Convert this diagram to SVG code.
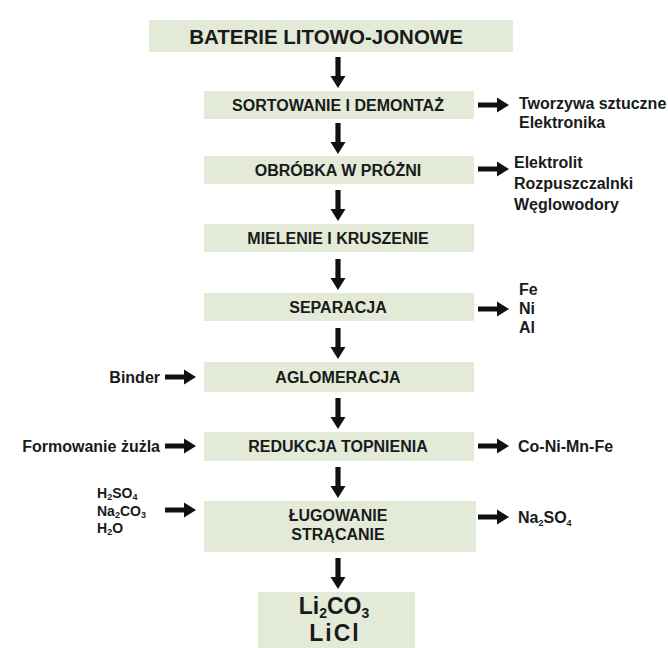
<svg xmlns="http://www.w3.org/2000/svg" xmlns:xlink="http://www.w3.org/1999/xlink" width="668" height="648" viewBox="0 0 668 648">
<style>
.box{fill:#e3ead8;}
.t{font-family:"Liberation Sans",Arial,sans-serif;font-weight:bold;fill:#1a1a1a;}
.lbl{font-size:16px;text-anchor:middle;}
.side{font-size:16px;}
.chem{font-size:14px;}
.sub{font-size:9px;}
.ar{fill:#111;}
</style>
<defs>
<path id="ra" class="ar" d="M0,-2.6 H19 V-7.5 L31,0 L19,7.5 V2.6 H0 Z"/>
<path id="da" class="ar" d="M-2.6,0 V19 H-7.5 L0,31 L7.5,19 H2.6 V0 Z"/>
</defs>
<rect width="668" height="648" fill="#ffffff"/>

<g id="n0"><rect class="box" x="149" y="20" width="364" height="32"/><text class="t" x="326" y="43.5" font-size="20.5" text-anchor="middle">BATERIE LITOWO-JONOWE</text></g>
<g id="n1"><rect class="box" x="204" y="91" width="270" height="28"/><text class="t lbl" x="338" y="110.5">SORTOWANIE I DEMONTAŻ</text></g>
<g id="n2"><rect class="box" x="204" y="156" width="270" height="28"/><text class="t lbl" x="338" y="175.5">OBRÓBKA W PRÓŻNI</text></g>
<g id="n3"><rect class="box" x="204" y="224" width="270" height="28"/><text class="t lbl" x="338" y="243.5">MIELENIE I KRUSZENIE</text></g>
<g id="n4"><rect class="box" x="204" y="293" width="270" height="28"/><text class="t lbl" x="338" y="312.5">SEPARACJA</text></g>
<g id="n5"><rect class="box" x="204" y="362" width="270" height="30"/><text class="t lbl" x="338" y="382.5">AGLOMERACJA</text></g>
<g id="n6"><rect class="box" x="204" y="432" width="270" height="29"/><text class="t lbl" x="338" y="451.5">REDUKCJA TOPNIENIA</text></g>
<g id="n7"><rect class="box" x="204" y="501" width="272" height="51"/><text class="t lbl" x="338" y="521">ŁUGOWANIE</text><text class="t lbl" x="338" y="540">STRĄCANIE</text></g>
<g id="n8"><rect class="box" x="258" y="592" width="157" height="56"/><text class="t" x="334" y="614" font-size="23" text-anchor="middle">Li<tspan font-size="14" dy="3.5">2</tspan><tspan dy="-3.5">CO</tspan><tspan font-size="14" dy="3.5">3</tspan></text><text class="t" x="335" y="641" font-size="23" text-anchor="middle" letter-spacing="2">LiCl</text></g>

<g id="out1"><text class="t side" x="519" y="109">Tworzywa sztuczne</text><text class="t side" x="519" y="128">Elektronika</text></g>
<g id="out2"><text class="t side" x="514" y="168">Elektrolit</text><text class="t side" x="514" y="189">Rozpuszczalnki</text><text class="t side" x="514" y="210">Węglowodory</text></g>
<g id="out4"><text class="t side" x="519" y="295">Fe</text><text class="t side" x="519" y="314">Ni</text><text class="t side" x="519" y="333">Al</text></g>
<g id="out6"><text class="t side" x="518" y="451.5">Co-Ni-Mn-Fe</text></g>
<g id="out7"><text class="t side" x="518" y="523">Na<tspan class="sub" dy="2.5">2</tspan><tspan dy="-2.5">SO</tspan><tspan class="sub" dy="2.5">4</tspan></text></g>
<g id="in5"><text class="t side" x="160" y="382.5" text-anchor="end">Binder</text></g>
<g id="in6"><text class="t side" x="160" y="451.5" text-anchor="end">Formowanie żużla</text></g>
<g id="in7"><text class="t chem" x="97" y="498">H<tspan class="sub" dy="2">2</tspan><tspan dy="-2">SO</tspan><tspan class="sub" dy="2">4</tspan></text><text class="t chem" x="97" y="515.5">Na<tspan class="sub" dy="2">2</tspan><tspan dy="-2">CO</tspan><tspan class="sub" dy="2">3</tspan></text><text class="t chem" x="97" y="533">H<tspan class="sub" dy="2">2</tspan><tspan dy="-2">O</tspan></text></g>

<g id="connectors">
<use xlink:href="#da" x="338" y="57"/>
<use xlink:href="#da" x="338" y="123"/>
<use xlink:href="#da" x="338" y="190"/>
<use xlink:href="#da" x="338" y="259"/>
<use xlink:href="#da" x="338" y="328"/>
<use xlink:href="#da" x="338" y="398"/>
<use xlink:href="#da" x="338" y="467"/>
<use xlink:href="#da" x="338" y="558"/>
<use xlink:href="#ra" x="478" y="105"/>
<use xlink:href="#ra" x="478" y="169"/>
<use xlink:href="#ra" x="478" y="309"/>
<use xlink:href="#ra" x="478" y="446"/>
<use xlink:href="#ra" x="478" y="517"/>
<use xlink:href="#ra" x="165" y="377"/>
<use xlink:href="#ra" x="165" y="446"/>
<use xlink:href="#ra" x="165" y="510"/>
</g>
</svg>
